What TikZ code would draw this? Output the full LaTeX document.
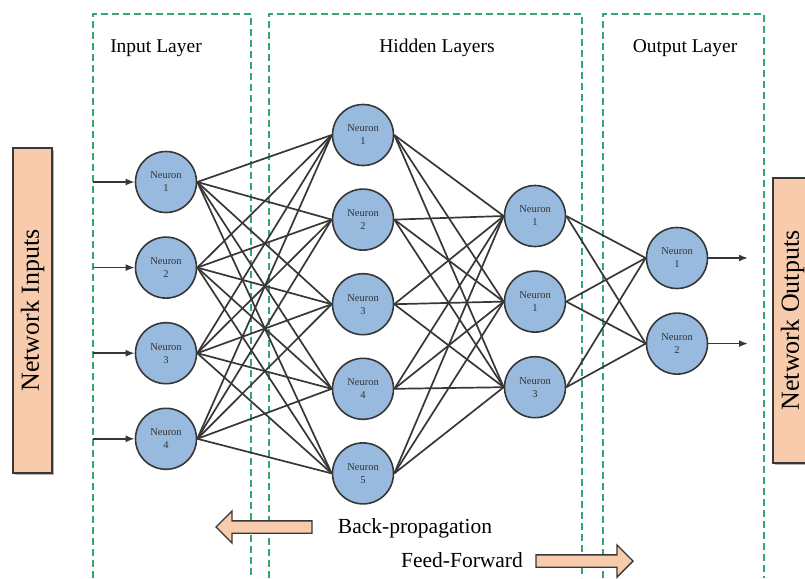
\documentclass[tikz,border=0pt]{standalone}
\usepackage{fontspec}
\setmainfont{Liberation Serif}
\usetikzlibrary{arrows.meta, positioning, shapes.arrows, shadows}

\definecolor{neuronblue}{RGB}{152,186,222}
\definecolor{edgegray}{RGB}{55,55,55}
\definecolor{layergreen}{RGB}{52,168,108}
\definecolor{peach}{RGB}{248,203,173}

\begin{document}
\begin{tikzpicture}[x=1pt, y=-1pt,
                neuron/.style={circle, draw=edgegray, line width=1.6pt, fill=neuronblue, minimum size=61pt, inner sep=0pt, align=center, text=black!80, font=\fontsize{10.5}{13}\selectfont},
                link/.style={draw=edgegray, line width=1.7pt},
                feed/.style={-{Latex[length=9pt, width=7pt]}, draw=edgegray, line width=1.7pt},
                layerbox/.style={draw=layergreen, line width=1.3pt, dash pattern=on 7pt off 4pt},
                layerlabel/.style={font=\fontsize{19.5}{23}\selectfont},
                iobox/.style={draw=edgegray, line width=1.3pt, fill=peach, rotate=90, minimum height=39pt, inner sep=0pt, font=\fontsize{26}{30}\selectfont, drop shadow={shadow xshift=1.5pt, shadow yshift=-1.5pt, opacity=0.6}},
                blockarrow/.style={single arrow, draw=edgegray, line width=1.3pt, fill=peach, inner xsep=0pt, inner ysep=5.5pt, single arrow head extend=10pt},
                flowlabel/.style={font=\fontsize{21.5}{25}\selectfont}]

                \useasboundingbox (0,0) rectangle (805,578);

                % Layer frames
                \draw[layerbox] (93,578) |- (251,14) -- (251,578);
                \draw[layerbox] (269,578) |- (582,14) -- (582,578);
                \draw[layerbox] (603,578) |- (764,14) -- (764,578);
                \node[layerlabel] (inlabel) at (156,48) {Input Layer};
                \node[layerlabel] (hidlabel) at (437,48) {Hidden Layers};
                \node[layerlabel] (outlabel) at (685,48) {Output Layer};

                % Input and output boxes
                \node[iobox, minimum width=325pt] (netin) at (32.5,310.5) {Network Inputs};
                \node[iobox, minimum width=285pt] (netout) at (792.5,320.5) {Network Outputs};

                % Neurons
                \node[neuron] (inp1) at (166,182) {Neuron\\1};
                \node[neuron, below=23pt of inp1] (inp2) {Neuron\\2};
                \node[neuron, below=23pt of inp2] (inp3) {Neuron\\3};
                \node[neuron, below=23pt of inp3] (inp4) {Neuron\\4};

                \node[neuron] (hida1) at (363,135) {Neuron\\1};
                \node[neuron, below=22pt of hida1] (hida2) {Neuron\\2};
                \node[neuron, below=22pt of hida2] (hida3) {Neuron\\3};
                \node[neuron, below=22pt of hida3] (hida4) {Neuron\\4};
                \node[neuron, below=22pt of hida4] (hida5) {Neuron\\5};

                \node[neuron] (hidb1) at (535,216) {Neuron\\1};
                \node[neuron, below=23pt of hidb1] (hidb2) {Neuron\\1};
                \node[neuron, below=23pt of hidb2] (hidb3) {Neuron\\3};

                \node[neuron] (outp1) at (677,258) {Neuron\\1};
                \node[neuron, below=23pt of outp1] (outp2) {Neuron\\2};

                % Weights
                \foreach \i in {1,...,4}
                    \foreach \j in {1,...,5}
                        \draw[link] (inp\i.east) -- (hida\j.west);
                \foreach \i in {1,...,5}
                    \foreach \j in {1,...,3}
                        \draw[link] (hida\i.east) -- (hidb\j.west);
                \foreach \i in {1,...,3}
                    \foreach \j in {1,2}
                        \draw[link] (hidb\i.east) -- (outp\j.west);

                % Inputs and outputs
                \foreach \i in {1,...,4} {
                    \coordinate (src\i) at (inp\i.west -| 93,0);
                    \draw[feed] (src\i) -- (inp\i.west);
                }
                \foreach \j in {1,2} {
                    \coordinate (dst\j) at (outp\j.east -| 748,0);
                    \draw[feed] (outp\j.east) -- (dst\j);
                }

                % Propagation directions
                \node[blockarrow, rotate=180, minimum height=96pt] (bparrow) at (267,527) {};
                \node[flowlabel] (bplabel) at (415,528) {Back-propagation};
                \node[flowlabel] (fflabel) at (462,560) {Feed-Forward};
                \node[blockarrow, minimum height=97pt] (ffarrow) at (581.5,561) {};
            \end{tikzpicture}
\end{document}
